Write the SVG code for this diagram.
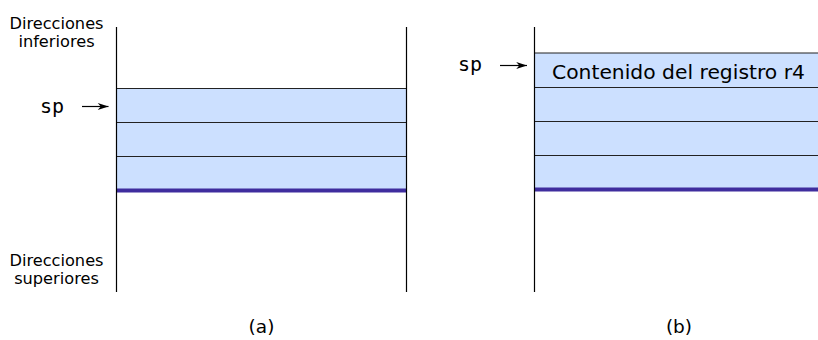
<svg xmlns="http://www.w3.org/2000/svg" width="818" height="340" viewBox="0 0 818 340">
<style>
.lbl{font-family:"DejaVu Sans",sans-serif;font-size:16.2px;fill:#000;text-anchor:middle}
.mono{font-family:"DejaVu Sans Mono",monospace;font-size:20px;fill:#000}
.big{font-family:"DejaVu Sans",sans-serif;font-size:20.3px;fill:#000}
.cap{font-family:"DejaVu Sans",sans-serif;font-size:18.5px;fill:#000;text-anchor:middle}
.cell{fill:#cce0ff;stroke:#222;stroke-width:1}
.wall{stroke:#000;stroke-width:1.2;fill:none}
.base{stroke:#3f2d9e;stroke-width:4;fill:none}
.arr{stroke:#000;stroke-width:1.2;fill:none}
</style>
<defs>
<marker id="ah" viewBox="0 0 12 10" refX="12" refY="5" markerWidth="12" markerHeight="9" markerUnits="userSpaceOnUse" orient="auto">
<path d="M0,1 L12,5 L0,9 L3.5,5 Z" fill="#000"/>
</marker>
</defs>
<g id="panel-a">
<g id="a-cell1"><rect class="cell" x="116.5" y="88.5" width="290" height="34"/></g>
<g id="a-cell2"><rect class="cell" x="116.5" y="122.5" width="290" height="34"/></g>
<g id="a-cell3"><rect class="cell" x="116.5" y="156.5" width="290" height="34"/></g>
<line class="base" x1="116.5" y1="190.5" x2="406.5" y2="190.5"/>
<line class="wall" x1="116.5" y1="27" x2="116.5" y2="292"/>
<line class="wall" x1="406.5" y1="27" x2="406.5" y2="292"/>
<g id="a-low"><text class="lbl" x="56.5" y="29">Direcciones</text><text class="lbl" x="56.5" y="47">inferiores</text></g>
<g id="a-high"><text class="lbl" x="56.5" y="266">Direcciones</text><text class="lbl" x="56.5" y="284">superiores</text></g>
<g id="a-sp"><text class="mono" x="40" y="113">sp</text></g>
<text class="cap" x="261.5" y="333">(a)</text>
</g>
<g id="panel-b">
<g id="b-cell0"><rect class="cell" x="534.5" y="53" width="290" height="34.5"/><text class="big" x="552" y="79">Contenido del registro r4</text></g>
<g id="b-cell1"><rect class="cell" x="534.5" y="87.5" width="290" height="34"/></g>
<g id="b-cell2"><rect class="cell" x="534.5" y="121.5" width="290" height="34"/></g>
<g id="b-cell3"><rect class="cell" x="534.5" y="155.5" width="290" height="34"/></g>
<line class="base" x1="534.5" y1="189.5" x2="818" y2="189.5"/>
<line class="wall" x1="534.5" y1="27" x2="534.5" y2="292"/>
<g id="b-sp"><text class="mono" x="458" y="70.5">sp</text></g>
<text class="cap" x="679" y="333">(b)</text>
</g>
<g id="connectors">
<line class="arr" x1="82" y1="106.5" x2="108.5" y2="106.5" marker-end="url(#ah)"/>
<line class="arr" x1="500" y1="65.5" x2="527" y2="65.5" marker-end="url(#ah)"/>
</g>
</svg>
